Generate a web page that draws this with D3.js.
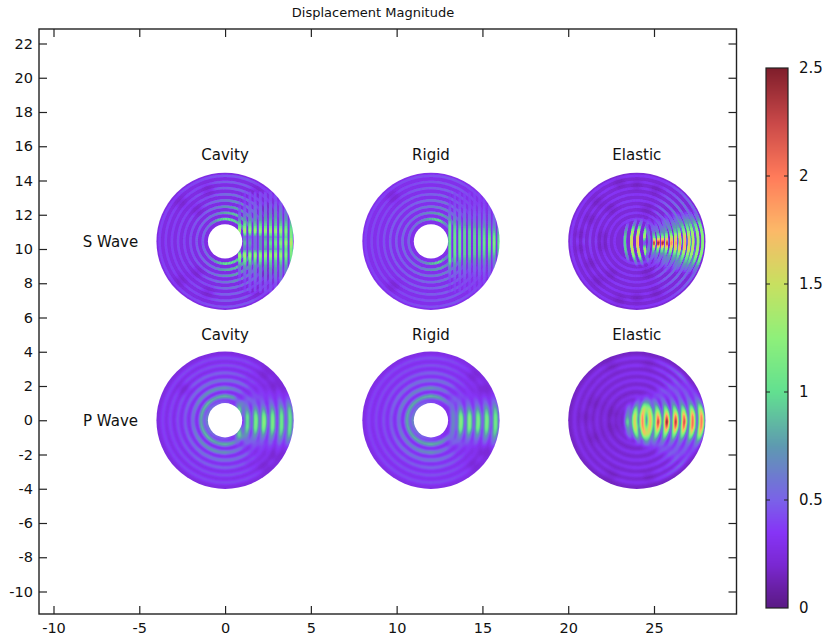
<!DOCTYPE html>
<html><head><meta charset="utf-8">
<script src="https://cdn.jsdelivr.net/npm/d3@7"></script>
<style>html,body{margin:0;padding:0;background:#fff}svg{display:block}text{font-family:"DejaVu Sans",sans-serif;font-size:14px;fill:#111}</style>
</head><body><div id="chart"></div>
<script>
// ---------- axes ----------
const xTicks = [-10,-5,0,5,10,15,20,25];
const yTicks = [22,20,18,16,14,12,10,8,6,4,2,0,-2,-4,-6,-8,-10];
const barTicks = [0,0.5,1,1.5,2,2.5];
const barLabels = ["0","0.5","1","1.5","2","2.5"];
const titleText = "Displacement Magnitude";
// ---------- colour table ----------
const colorStops  = [0,0.1,0.2,0.35,0.5,0.75,1,1.25,1.5,1.75,2,2.25,2.5];
const colorValues = ["#5a1a84","#6a20a8","#7a28d2","#8634f6","#7a62e8","#5e9ab0","#62e090","#8ef07a","#c8e060","#fcb868","#ff7a5a","#c84848","#7f1d2b"];
// ---------- panels ----------
const columnX = [0,12,24];
const columnNames = ["Cavity","Rigid","Elastic"];
const rowY = [10.45,0];
const rowNames = ["S Wave","P Wave"];
const ringAngles = [0,22.5,45,67.5,90,112.5,135,157.5,180];
const fringeHeights = [0,0.35,0.7,1.05,1.4,1.8,2.4];
const troughLevels = [0.27,0.3,0.23,0.26,0.28,0.17];
const fringeBow = [0,0,-0.17,-0.08,-0.08,-0.15];

const sRingRadii = [1.3,1.66,2.02,2.38,2.74,3.1,3.46,3.82];
const pRingRadii = [1.05,1.4,1.88,2.33,2.76,3.2,3.63];

const sCavityRings = [
[.3,.3,.85,1,1.05,.8,.6,.55,.5],
[.3,.3,.75,.9,.8,.6,.55,.5,.5],
[.3,.3,.6,.8,.7,.55,.5,.45,.45],
[.3,.3,.5,.7,.6,.5,.45,.42,.42],
[.3,.3,.42,.6,.55,.45,.4,.42,.42],
[.3,.3,.4,.52,.5,.45,.4,.4,.4],
[.3,.3,.4,.48,.48,.42,.4,.4,.4],
[.3,.3,.38,.46,.46,.42,.4,.4,.4]];
const sCavityFringeX = [.85,1.15,1.45,1.75,2.05,2.35,2.65,2.95,3.25,3.55,3.85];
const sCavityFringes = [
[0,.3,1.4,1,.6,.45,.35],
[.9,.6,1.45,1.05,.7,.5,.4],
[.8,.55,1.4,1,.7,.55,.45],
[.6,.6,1.4,.95,.7,.6,.45],
[.75,.7,1.35,1,.7,.6,.45],
[.95,.75,1.35,.95,.75,.6,.45],
[1.05,.8,1.35,.95,.8,.6,.45],
[1.15,.85,1.35,.9,.8,.65,.45],
[1.25,.9,1.35,.95,.75,.65,.45],
[1.35,1,1.25,.95,.75,.6,.45],
[1.5,1.2,1.15,.9,.7,.55,.45]];

const sRigidRings = [
[.3,.3,.6,1,.85,.65,.6,.55,.55],
[.3,.3,.55,.8,.7,.6,.55,.55,.55],
[.3,.3,.5,.65,.6,.55,.5,.5,.5],
[.3,.3,.45,.6,.55,.5,.48,.48,.48],
[.3,.3,.42,.55,.5,.48,.45,.45,.45],
[.3,.3,.42,.5,.48,.45,.42,.42,.42],
[.3,.3,.42,.48,.45,.42,.42,.42,.42],
[.3,.3,.4,.46,.44,.42,.4,.4,.4]];
const sRigidFringeX = [1.1,1.39,1.68,1.96,2.25,2.54,2.82,3.1,3.4,3.68,3.96];
const sRigidFringes = [
[1,1.05,1.05,1,.7,.5,.38],
[1.05,1.05,1,.85,.65,.5,.42],
[1.05,1.05,1,.8,.6,.5,.42],
[.95,.95,.95,.75,.6,.5,.42],
[.95,.95,.95,.75,.55,.48,.42],
[.95,.95,.9,.7,.55,.48,.42],
[1,.95,.9,.7,.55,.48,.42],
[1.05,1,.9,.7,.55,.48,.42],
[1.15,1.05,.9,.7,.55,.48,.42],
[1.2,1.1,.85,.65,.55,.48,.42],
[1.05,.95,.8,.65,.55,.45,.42]];

const sElasticRings = [
[.3,.65,.5,.4,.4,.4,.36,.36,.36],
[.3,.7,.5,.38,.38,.38,.36,.36,.4],
[.3,.75,.55,.38,.38,.38,.38,.36,.42],
[.3,.8,.55,.38,.38,.38,.38,.36,.42],
[.3,.8,.55,.38,.36,.38,.38,.36,.42],
[.3,.8,.52,.38,.36,.36,.36,.36,.44],
[.3,.72,.5,.36,.36,.36,.36,.36,.42],
[.3,.65,.48,.36,.36,.36,.36,.36,.4]];
const sElasticFringeX = [-.7,-.31,.04,.43,.72,1.01,1.26,1.5,1.75,2.02,2.27,2.52,2.8,3.05,3.28,3.57,3.84];
const sElasticFringes = [
[.95,.95,.75,.45,.3,.3,.3],
[1.6,1.55,1.3,.7,.35,.3,.3],
[1.8,1.7,1.45,.7,.35,.3,.3],
[.35,1.4,1.15,.55,.35,.3,.3],
[.5,.7,.5,.4,.3,.3,.3],
[2.4,1.05,.55,.45,.35,.3,.3],
[2.55,1.15,.6,.45,.35,.3,.3],
[2.55,1.2,.6,.5,.4,.3,.3],
[2.4,1.3,.75,.55,.4,.3,.3],
[2,1.45,.8,.6,.45,.3,.3],
[1.9,1.55,.9,.65,.45,.35,.3],
[1.9,1.7,1.05,.7,.5,.35,.3],
[1.8,1.7,1.2,.85,.55,.35,.3],
[1.7,1.6,1.25,.9,.6,.35,.3],
[1.5,1.45,1.3,.95,.65,.35,.3],
[1.35,1.35,1.3,1,.65,.4,.3],
[1.25,1.25,1.25,1.1,.7,.4,.3]];

const pCavityRings = [
[.3,.3,.35,.45,.55,.6,.7,.75,.9],
[.3,.4,.75,.95,1.05,1,1.1,1.05,1],
[.3,.4,.6,.7,.85,.9,.85,.75,.65],
[.3,.35,.5,.65,.68,.68,.65,.58,.55],
[.3,.32,.42,.55,.58,.58,.55,.5,.5],
[.3,.3,.38,.48,.5,.48,.48,.46,.46],
[.3,.3,.38,.46,.48,.46,.46,.44,.44]];
const pCavityFringeX = [.87,1.3,1.8,2.27,2.78,3.3,3.79];
const pCavityFringes = [
[0,.75,1.1,.65,.38,.3,.3],
[1.05,1.1,.8,.55,.42,.35,.3],
[1.25,1.2,.85,.55,.45,.4,.35],
[1.35,1.25,.85,.55,.45,.4,.35],
[1.25,1.2,.9,.6,.45,.4,.3],
[1.15,1.15,.95,.65,.45,.4,.3],
[1.1,1.1,1,.7,.45,.35,.3]];

const pRigidRings = [
[.3,.3,.35,.45,.5,.6,.7,.75,.9],
[.3,.4,.7,.95,1.05,1,1,1,1],
[.3,.4,.6,.7,.85,.8,.75,.75,.65],
[.3,.35,.5,.65,.68,.65,.65,.58,.55],
[.3,.32,.45,.55,.58,.55,.52,.5,.5],
[.3,.3,.4,.48,.5,.48,.48,.46,.46],
[.3,.3,.4,.46,.48,.46,.46,.44,.44]];
const pRigidFringeX = [1.3,1.75,2.25,2.75,3.26,3.77];
const pRigidFringes = [
[.7,.7,.62,.5,.4,.35,.3],
[1.3,1.25,.85,.55,.42,.35,.3],
[1.3,1.25,.85,.55,.42,.35,.3],
[1.25,1.2,.85,.55,.42,.35,.3],
[1.25,1.2,.9,.6,.42,.35,.3],
[1.2,1.15,.95,.65,.45,.35,.3]];

const pElasticRings = [
[.3,.3,.3,.3,.3,.3,.3,.3,.3],
[.3,.42,.42,.42,.4,.36,.35,.33,.33],
[.3,.48,.48,.4,.4,.38,.35,.33,.33],
[.3,.5,.55,.4,.4,.38,.35,.33,.33],
[.3,.5,.58,.42,.4,.38,.35,.33,.33],
[.3,.5,.6,.45,.4,.38,.35,.35,.35],
[.3,.45,.62,.45,.38,.38,.35,.35,.35]];
const pElasticFringeX = [-.54,-.12,.33,.78,1.24,1.75,2.27,2.76,3.26,3.77];
const pElasticFringes = [
[1.1,.8,.65,.4,.3,.3,.3],
[1.75,1.7,1.25,.65,.35,.3,.3],
[2.1,2.05,1.75,1.05,.45,.3,.3],
[1.9,1.85,1.55,.9,.42,.3,.3],
[2.5,2.05,1.3,.75,.42,.3,.3],
[2.75,2.15,1.3,.75,.48,.42,.3],
[2.6,2.15,1.3,.75,.48,.42,.3],
[2.45,2.15,1.35,.75,.52,.48,.35],
[2.25,2.15,1.5,.8,.52,.48,.35],
[2.15,2.1,1.6,.9,.52,.42,.35]];

const sCavityDark = [[-1.6,1.8],[-1.6,-1.8],[-2.6,2.3],[-2.6,-2.3],[1.8,2.9],[1.8,-2.9],[2.4,1.9],[2.4,-1.9],[-1,3],[-1,-3]];
const sRigidDark = [[-2.2,2.6],[-2.2,-2.6]];
const sElasticDark = [[-3.3,.4],[-3.3,-.4],[-1.5,1.9],[-1.5,-1.9],[0,3.3],[0,-3.3],[-1,3.4],[-1,-3.4],[1.1,3],[1.1,-3],[-2.3,2.3],[-2.3,-2.3],[-2.7,1.3],[-2.7,-1.3],[-2,.3],[-2,-.3],[.6,1.9],[.6,-1.9]];
const pCavityDark = [[2.3,2.7],[2.3,-2.7],[2.9,2],[2.9,-2],[-2.4,1.8]];
const pRigidDark = [[2.5,2.6],[2.5,-2.6],[3.1,1.8],[3.1,-1.8]];
const pElasticDark = [[-2.5,1],[-2.5,-1],[-1.5,3.2],[-1.5,-3.2],[-3,.2],[-1.4,.4],[-1.4,-.4],[.7,3.3],[.7,-3.3]];

const panels = [
 {col:0,row:0,hole:true, radii:sRingRadii,rings:sCavityRings, fx:sCavityFringeX, fv:sCavityFringes, dark:sCavityDark, filter:"fieldS"},
 {col:1,row:0,hole:true, radii:sRingRadii,rings:sRigidRings,  fx:sRigidFringeX,  fv:sRigidFringes, dark:sRigidDark, filter:"fieldS"},
 {col:2,row:0,hole:false,radii:sRingRadii,rings:sElasticRings,fx:sElasticFringeX,fv:sElasticFringes, dark:sElasticDark, filter:"fieldE"},
 {col:0,row:1,hole:true, radii:pRingRadii,rings:pCavityRings, fx:pCavityFringeX, fv:pCavityFringes, dark:pCavityDark, filter:"fieldP"},
 {col:1,row:1,hole:true, radii:pRingRadii,rings:pRigidRings,  fx:pRigidFringeX,  fv:pRigidFringes, dark:pRigidDark, filter:"fieldP"},
 {col:2,row:1,hole:false,radii:pRingRadii,rings:pElasticRings,fx:pElasticFringeX,fv:pElasticFringes, dark:pElasticDark, filter:"fieldP"}
];

// ---------- scales ----------
const W=826,H=641;
const frame={l:39,r:736.5,t:29,b:614};
const x=d3.scaleLinear().domain([-10,25]).range([53.5,654]);
const y=d3.scaleLinear().domain([22,-10]).range([43.5,591.5]);
const color=d3.scaleLinear().domain(colorStops).range(colorValues).interpolate(d3.interpolateRgb).clamp(true);
const level=d3.scaleLinear().domain([0,2.75]).range([0,255]).clamp(true);   // field value -> grey level
const grey=v=>{const g=Math.round(level(v));return `rgb(${g},${g},${g})`;};
const barY=d3.scaleLinear().domain([0,2.5]).range([608,68]);
const unit=x(1)-x(0);
const fade=d3.scaleLinear().domain([.33,.5]).range([0,1]).clamp(true);

const svg=d3.select("#chart").append("svg").attr("width",W).attr("height",H);
const defs=svg.append("defs");
// fields are painted as grey levels, blurred, then mapped through the colour table
const tableSamples=d3.range(0,2.7501,.05).map(v=>d3.rgb(color(v)));
[["fieldS",0.72],["fieldE",0.55],["fieldP",1.6]].forEach(([id,s])=>{
  const f=defs.append("filter").attr("id",id).attr("filterUnits","userSpaceOnUse")
   .attr("x",0).attr("y",0).attr("width",W).attr("height",H)
   .attr("color-interpolation-filters","sRGB");
  f.append("feGaussianBlur").attr("stdDeviation",s);
  const t=f.append("feComponentTransfer");
  [["feFuncR","r"],["feFuncG","g"],["feFuncB","b"]].forEach(([n,c])=>{
    t.append(n).attr("type","table").attr("tableValues",tableSamples.map(d=>(d[c]/255).toFixed(4)).join(" "));
  });
});
defs.append("filter").attr("id","softD").attr("filterUnits","userSpaceOnUse")
   .attr("x",0).attr("y",0).attr("width",W).attr("height",H)
   .attr("color-interpolation-filters","sRGB")
   .append("feGaussianBlur").attr("stdDeviation",2.2);

// ---------- fields ----------
const arc=d3.arc();
panels.forEach((p,i)=>{
  const cx=x(columnX[p.col]), cy=y(rowY[p.row]);
  const rad=4*unit;
  defs.append("clipPath").attr("id","disc"+i).append("circle").attr("cx",cx).attr("cy",cy).attr("r",rad);
  const outer=svg.append("g").attr("clip-path",`url(#disc${i})`);
  const g=outer.append("g").attr("filter",`url(#${p.filter})`);
  g.append("circle").attr("cx",cx).attr("cy",cy).attr("r",rad+6).attr("fill",grey(troughLevels[i]));
  // crest rings
  const spacing=d3.median(d3.pairs(p.radii),d=>d[1]-d[0]);
  const step=4;
  p.radii.forEach((r,ri)=>{
    const lookup=d3.scaleLinear().domain(ringAngles).range(p.rings[ri]);
    const segs=d3.range(-180,180,step);
    g.append("g").selectAll("path").data(segs).join("path")
      .attr("transform",`translate(${cx},${cy})`)
      .attr("d",a=>arc({innerRadius:(r-spacing*.22)*unit,outerRadius:(r+spacing*.22)*unit,
         startAngle:(a+90-.3)*Math.PI/180,endAngle:(a+step+90+.3)*Math.PI/180}))
      .attr("fill",a=>grey(lookup(Math.abs(a+step/2))));
  });
  // blotches of low displacement
  g.append("g").attr("filter","url(#softD)").selectAll("ellipse").data(p.dark).join("ellipse")
    .attr("cx",d=>cx+d[0]*unit).attr("cy",d=>y(d[1])-y(0)+cy)
    .attr("rx",.34*unit).attr("ry",.3*unit)
    .attr("fill",grey(.1)).attr("opacity",.45);
  // forward fringes
  const fSpacing=d3.median(d3.pairs(p.fx),d=>d[1]-d[0]);
  const ys=d3.range(-2.9,2.9,.1);
  p.fx.forEach((fx,fi)=>{
    const lookup=d3.scaleLinear().domain(fringeHeights).range(p.fv[fi]).clamp(true);
    const sign=fx<0.5?-1:1;
    g.append("g").selectAll("rect").data(ys).join("rect")
      .attr("x",v=>x(fx+sign*fringeBow[i]*v*v-fSpacing*.27)-x(0)+cx)
      .attr("y",v=>y(v+.105)-y(0)+cy)
      .attr("width",fSpacing*.54*unit)
      .attr("height",.21*unit)
      .attr("fill",v=>grey(lookup(Math.abs(v+.05))))
      .attr("opacity",v=>fade(lookup(Math.abs(v+.05))));
  });
  if(p.hole) outer.append("circle").attr("cx",cx).attr("cy",cy).attr("r",unit).attr("fill","#fff");
});

// ---------- labels ----------
columnNames.forEach((n,c)=>{
  svg.append("text").attr("x",x(columnX[c])).attr("y",160).attr("text-anchor","middle").style("font-size","15px").text(n);
  svg.append("text").attr("x",x(columnX[c])).attr("y",340).attr("text-anchor","middle").style("font-size","15px").text(n);
});
rowNames.forEach((n,r)=>{
  svg.append("text").attr("x",110.5).attr("y",y(rowY[r])+6).attr("text-anchor","middle").style("font-size","15px").text(n);
});
svg.append("text").attr("x",373).attr("y",17).attr("text-anchor","middle").style("font-size","13px").text(titleText);

// ---------- frame and axes ----------
const stroke="#222";
const tl=8;
const axes=[
 [d3.axisBottom(x).tickValues(xTicks).tickFormat(d3.format("d")).tickSizeInner(-tl).tickSizeOuter(0).tickPadding(9),`translate(0,${frame.b})`,true],
 [d3.axisTop(x).tickValues(xTicks).tickSizeInner(-tl).tickSizeOuter(0),`translate(0,${frame.t})`,false],
 [d3.axisLeft(y).tickValues(yTicks).tickFormat(d3.format("d")).tickSizeInner(-tl).tickSizeOuter(0).tickPadding(6),`translate(${frame.l},0)`,true],
 [d3.axisRight(y).tickValues(yTicks).tickSizeInner(-tl).tickSizeOuter(0),`translate(${frame.r},0)`,false]
];
axes.forEach(([a,t,show])=>{
  const g=svg.append("g").attr("transform",t).call(a);
  g.select(".domain").remove();
  g.selectAll(".tick line").attr("stroke",stroke).attr("stroke-width",1.2);
  g.selectAll("text").style("font-family",'"DejaVu Sans",sans-serif').style("font-size","14.5px").attr("fill","#111");
  g.attr("font-family",null).attr("font-size",null);
  if(!show) g.selectAll("text").remove();
  else g.selectAll("text").text(function(){return this.textContent.replace("\u2212","-");});
});
svg.append("rect").attr("x",frame.l).attr("y",frame.t).attr("width",frame.r-frame.l).attr("height",frame.b-frame.t)
  .attr("fill","none").attr("stroke",stroke).attr("stroke-width",1.4);

// ---------- colour bar ----------
const barX=766,barW=22;
const barRows=d3.range(68,608);
svg.append("g").attr("shape-rendering","crispEdges").selectAll("rect").data(barRows).join("rect")
  .attr("x",barX).attr("width",barW)
  .attr("y",d=>d).attr("height",1)
  .attr("fill",d=>color(barY.invert(d+.5)));
svg.append("rect").attr("x",barX).attr("y",barY(2.5)).attr("width",barW).attr("height",barY(0)-barY(2.5))
  .attr("fill","none").attr("stroke",stroke).attr("stroke-width",1.2);
barTicks.forEach((t,i)=>{
  if(t>0&&t<2.5){
    svg.append("line").attr("x1",barX).attr("x2",barX+4).attr("y1",barY(t)).attr("y2",barY(t)).attr("stroke",stroke).attr("stroke-width",1);
    svg.append("line").attr("x1",barX+barW-4).attr("x2",barX+barW).attr("y1",barY(t)).attr("y2",barY(t)).attr("stroke",stroke).attr("stroke-width",1);
  }
  svg.append("text").attr("x",799).attr("y",barY(t)+5).style("font-size","15px").text(barLabels[i]);
});
</script></body></html>
